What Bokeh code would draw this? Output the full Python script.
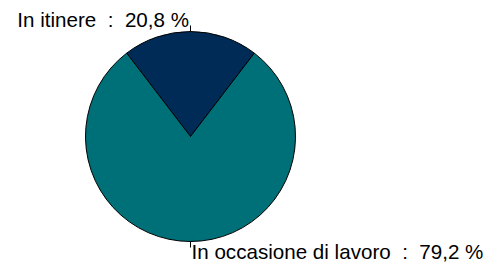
import math
from bokeh.plotting import figure
from bokeh.models import Range1d
from bokeh.embed import file_html
from bokeh.resources import INLINE
from bokeh.core.properties import value

categories = ["In itinere", "In occasione di lavoro"]
percents = [20.8, 79.2]
colors = ["#002b57", "#007078"]

W, H = 499, 262
p = figure(width=W, height=H, output_backend="svg", toolbar_location=None,
           x_range=Range1d(0, W), y_range=Range1d(0, H), min_border=0)
p.axis.visible = False
p.grid.visible = False
p.outline_line_color = None
p.background_fill_color = "white"

cx, cy, r = 190, 126, 105
total = sum(percents)
start = math.pi / 2 - percents[0] / total * math.pi
starts, ends, mids = [], [], []
a = start
for v in percents:
    e = a + v / total * 2 * math.pi
    starts.append(a)
    ends.append(e)
    mids.append((a + e) / 2)
    a = e

p.wedge(x=[cx] * 2, y=[cy] * 2, radius=r, start_angle=starts, end_angle=ends,
        fill_color=colors, line_color="black", line_width=1)

# leader ticks
x0 = [cx + r * math.cos(m) for m in mids]
y0 = [cy + r * math.sin(m) for m in mids]
x1 = [cx + (r + 6) * math.cos(m) for m in mids]
y1 = [cy + (r + 6) * math.sin(m) for m in mids]
p.segment(x0=x0, y0=y0, x1=x1, y1=y1, line_color="black", line_width=1)

labels = [f"{c}\u00a0\u00a0:\u00a0\u00a0{v:.1f} %".replace(".", ",") for c, v in zip(categories, percents)]
p.text(x=[cx - 1.5], y=[243], text=[labels[0]], text_align="right",
       text_baseline="alphabetic", text_font=value("Liberation Sans"), text_font_size="20.6px",
       text_color="black")
p.text(x=[cx + 1], y=[11.5], text=[labels[1]], text_align="left",
       text_baseline="alphabetic", text_font=value("Liberation Sans"), text_font_size="20.6px",
       text_color="black")

open("out.html", "w").write(file_html(p, INLINE))
